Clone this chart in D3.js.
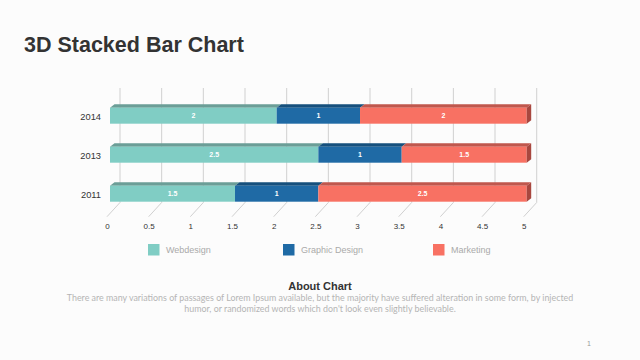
<!DOCTYPE html>
<html>
<head>
<meta charset="utf-8">
<script src="https://cdn.jsdelivr.net/npm/d3@7/dist/d3.min.js"></script>
<style>
  html, body { margin: 0; padding: 0; background: #fcfcfc; }
  svg { display: block; }
</style>
</head>
<body>
<svg id="chart" width="640" height="360"></svg>
<script>
// ---- data ----
const categories = ["2014", "2013", "2011"];
const seriesNames = ["Webdesign", "Graphic Design", "Marketing"];
const webdesign = [2, 2.5, 1.5];
const graphicDesign = [1, 1, 1];
const marketing = [2, 1.5, 2.5];
const tickValues = [0, 0.5, 1, 1.5, 2, 2.5, 3, 3.5, 4, 4.5, 5];
const tickLabels = ["0", "0.5", "1", "1.5", "2", "2.5", "3", "3.5", "4", "4.5", "5"];

// ---- styles ----
const frontColors = ["#80cdc4", "#1f6aa5", "#f87163"];
const topColors   = ["#6b9e97", "#16507d", "#c0574d"];
const sideColors  = ["#5e8c86", "#123f63", "#a8473f"];

const svg = d3.select("#chart");

// title
svg.append("text").attr("x", 24).attr("y", 52)
  .attr("font-family", "Liberation Sans, Arial, sans-serif")
  .attr("font-weight", "bold").attr("font-size", 21.5).attr("fill", "#333")
  .text("3D Stacked Bar Chart");

// scales
const x = d3.scaleLinear().domain([0, 5]).range([110, 526.7]);
const y = d3.scaleBand().domain(categories).range([96.2, 213.2])
  .paddingInner(0.59).paddingOuter(0.295);

// plot 3D geometry
const backDX = 10, floorDX = -3;
const gridTop = 88, backFloorY = 202.5, frontFloorY = 216.7;
const barDX = 4.5, barDY = -3.5;

// gridlines on back wall + floor diagonals
const g = svg.append("g");
tickValues.forEach(v => {
  g.append("line")
    .attr("x1", x(v) + backDX).attr("x2", x(v) + backDX)
    .attr("y1", gridTop).attr("y2", backFloorY)
    .attr("stroke", "#d0d0d0").attr("stroke-width", 1);
  g.append("line")
    .attr("x1", x(v) + backDX).attr("y1", backFloorY)
    .attr("x2", x(v) + floorDX).attr("y2", frontFloorY)
    .attr("stroke", "#d0d0d0").attr("stroke-width", 1);
});

// tick labels
const axisG = svg.append("g")
  .attr("transform", `translate(${floorDX},${frontFloorY})`)
  .call(d3.axisBottom(x).tickValues(tickValues).tickFormat((d, i) => tickLabels[i]).tickSize(0).tickPadding(6.5));
axisG.select(".domain").remove();
axisG.selectAll("text")
  .attr("font-family", "Liberation Sans, Arial, sans-serif")
  .attr("font-size", 8).attr("fill", "#333");

// category labels
const yAxisG = svg.append("g")
  .attr("transform", `translate(101,1.5)`)
  .call(d3.axisLeft(y).tickSize(0).tickPadding(0));
yAxisG.select(".domain").remove();
yAxisG.selectAll("text")
  .attr("font-family", "Liberation Sans, Arial, sans-serif")
  .attr("font-size", 9.3).attr("fill", "#333");

// stacked data
const rows = categories.map((c, i) => ({
  cat: c, Webdesign: webdesign[i], "Graphic Design": graphicDesign[i], Marketing: marketing[i]
}));
const stack = d3.stack().keys(seriesNames)(rows);

const bars = svg.append("g");
stack.forEach((layer, si) => {
  layer.forEach((d, ci) => {
    const cat = categories[ci];
    const x0 = x(d[0]), x1 = x(d[1]);
    const y0 = y(cat), h = y.bandwidth();
    bars.append("polygon")
      .attr("points", [[x0, y0], [x0 + barDX, y0 + barDY], [x1 + barDX, y0 + barDY], [x1, y0]].map(p => p.join(",")).join(" "))
      .attr("fill", topColors[si]);
    bars.append("rect")
      .attr("x", x0).attr("y", y0).attr("width", x1 - x0).attr("height", h)
      .attr("fill", frontColors[si]);
    if (si === stack.length - 1) {
      bars.append("polygon")
        .attr("points", [[x1, y0], [x1 + barDX, y0 + barDY], [x1 + barDX, y0 + h + barDY], [x1, y0 + h]].map(p => p.join(",")).join(" "))
        .attr("fill", sideColors[si]);
    }
    bars.append("text")
      .attr("x", (x0 + x1) / 2).attr("y", y0 + h / 2)
      .attr("dy", "0.35em").attr("text-anchor", "middle")
      .attr("font-family", "Liberation Sans, Arial, sans-serif")
      .attr("font-weight", "bold").attr("font-size", 7).attr("fill", "#fff")
      .text(d.data[seriesNames[si]]);
  });
});

// legend
const legendX = [148, 283, 433];
const legend = svg.append("g");
seriesNames.forEach((name, i) => {
  legend.append("rect").attr("x", legendX[i]).attr("y", 244).attr("width", 11.5).attr("height", 11.5)
    .attr("fill", frontColors[i]);
  legend.append("text").attr("x", legendX[i] + 18).attr("y", 250).attr("dy", "0.35em")
    .attr("font-family", "Liberation Sans, Arial, sans-serif")
    .attr("font-size", 9).attr("fill", "#aaa").text(name);
});

// about chart
svg.append("text").attr("x", 320).attr("y", 290).attr("text-anchor", "middle")
  .attr("font-family", "Liberation Sans, Arial, sans-serif")
  .attr("font-weight", "bold").attr("font-size", 11).attr("fill", "#333")
  .text("About Chart");
const para = [
  "There are many variations of passages of Lorem Ipsum available, but the majority have suffered alteration in some form, by injected",
  "humor, or randomized words which don't look even slightly believable."
];
para.forEach((line, i) => {
  svg.append("text").attr("x", 320).attr("y", 301 + i * 11).attr("text-anchor", "middle")
    .attr("font-family", "Lato, sans-serif")
    .attr("font-size", 8.9).attr("fill", "#b5b5b5")
    .text(line);
});

// page number
svg.append("text").attr("x", 589).attr("y", 346).attr("text-anchor", "middle")
  .attr("font-family", "Liberation Sans, Arial, sans-serif")
  .attr("font-size", 7).attr("fill", "#999").text("1");
</script>
</body>
</html>
